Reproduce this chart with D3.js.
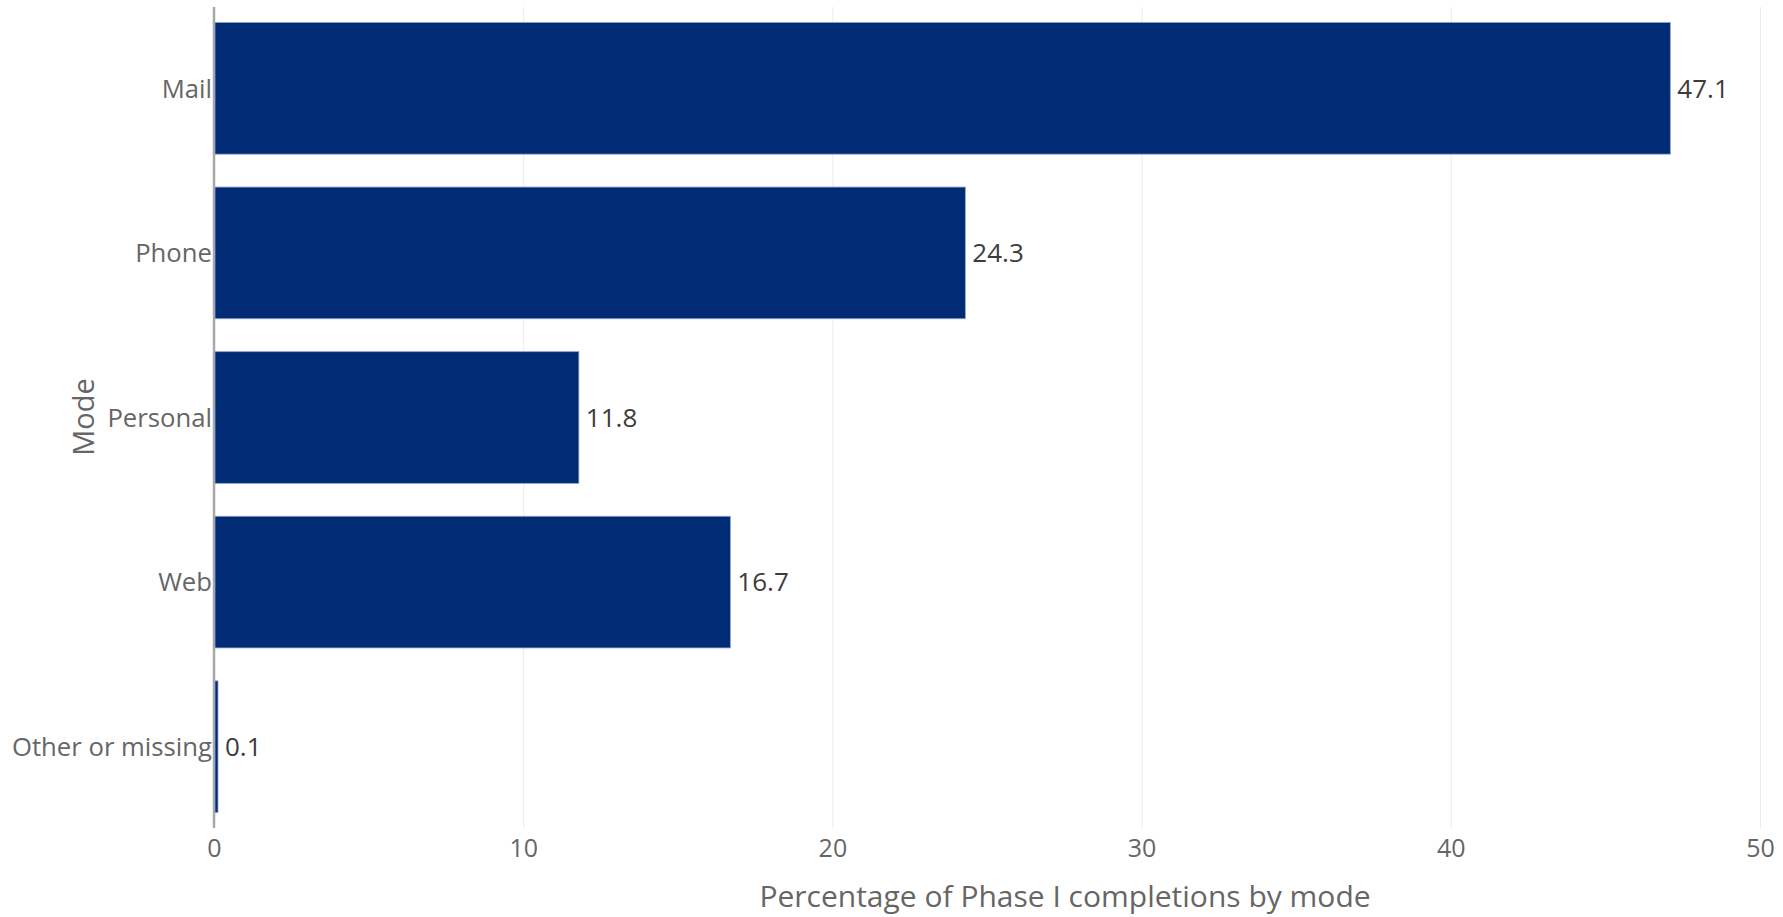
<!DOCTYPE html>
<html>
<head>
<meta charset="utf-8">
<script src="https://cdn.jsdelivr.net/npm/d3@7"></script>
<style>
  body { margin: 0; background: #fff; }
  text { font-family: "Open Sans", sans-serif; }
</style>
</head>
<body>
<div id="chart"></div>
<script>
// Data
var modes = ["Mail", "Phone", "Personal", "Web", "Other or missing"];
var percents = [47.1, 24.3, 11.8, 16.7, 0.1];
var xTicks = [0, 10, 20, 30, 40, 50];

var data = modes.map(function(m, i) { return {mode: m, value: percents[i]}; });

// Plot area in page pixels (note: "top" is taken by window.top, so use plotTop)
var W = 1783, H = 917;
var plotLeft = 214, plotRight = 1760, plotTop = 7, plotBottom = 828;

var svg = d3.select("#chart")
            .append("svg")
            .attr("width", W)
            .attr("height", H);

var x = d3.scaleLinear()
          .domain([0, 50])
          .range([plotLeft, plotRight]);

var y = d3.scaleBand()
          .domain(modes)
          .range([6, 829])
          .paddingInner(0.2)
          .paddingOuter(0.1);

// X axis with gridlines
var xAxis = svg.append("g")
   .attr("transform", "translate(0," + plotBottom + ")")
   .call(d3.axisBottom(x).tickValues(xTicks).tickSize(-(plotBottom - plotTop)).tickPadding(11));

xAxis.select(".domain").remove();
xAxis.selectAll(".tick line").attr("stroke", "#ebebeb").attr("stroke-width", 1);
xAxis.selectAll(".tick text")
     .attr("fill", "#666")
     .style("font-size", "25px");

// zero line
svg.append("line")
   .attr("x1", x(0)).attr("x2", x(0))
   .attr("y1", plotTop).attr("y2", plotBottom)
   .attr("stroke", "#a8a8a8")
   .attr("stroke-width", 2.5);

// bars
svg.append("g")
   .selectAll("rect")
   .data(data)
   .enter().append("rect")
     .attr("x", x(0) + 1)
     .attr("y", function(d) { return y(d.mode); })
     .attr("width", function(d) { return Math.max(x(d.value) - x(0) - 1, 3); })
     .attr("height", y.bandwidth())
     .attr("fill", "#012b75")
     .attr("stroke", "#8fa2c8")
     .attr("stroke-width", 0.8);

// value labels
svg.append("g")
   .selectAll("text")
   .data(data)
   .enter().append("text")
     .attr("x", function(d) { return Math.max(x(d.value), x(0) + 4) + 7; })
     .attr("y", function(d) { return y(d.mode) + y.bandwidth() / 2; })
     .attr("dy", "0.36em")
     .attr("fill", "#3c3c3c")
     .style("font-size", "26px")
     .text(function(d) { return d.value; });

// Y axis labels
var yAxis = svg.append("g")
   .attr("transform", "translate(" + (plotLeft - 2) + ",0)")
   .call(d3.axisLeft(y).tickSize(0).tickPadding(0));

yAxis.select(".domain").remove();
yAxis.selectAll(".tick text")
     .attr("fill", "#666")
     .attr("dy", "0.36em")
     .style("font-size", "25.7px");

// axis titles
svg.append("text")
   .attr("x", 1065)
   .attr("y", 907)
   .attr("text-anchor", "middle")
   .attr("fill", "#666")
   .style("font-size", "30px")
   .text("Percentage of Phase I completions by mode");

svg.append("text")
   .attr("transform", "translate(84,417) rotate(-90)")
   .attr("dy", "0.36em")
   .attr("text-anchor", "middle")
   .attr("fill", "#666")
   .style("font-size", "29px")
   .text("Mode");
</script>
</body>
</html>
